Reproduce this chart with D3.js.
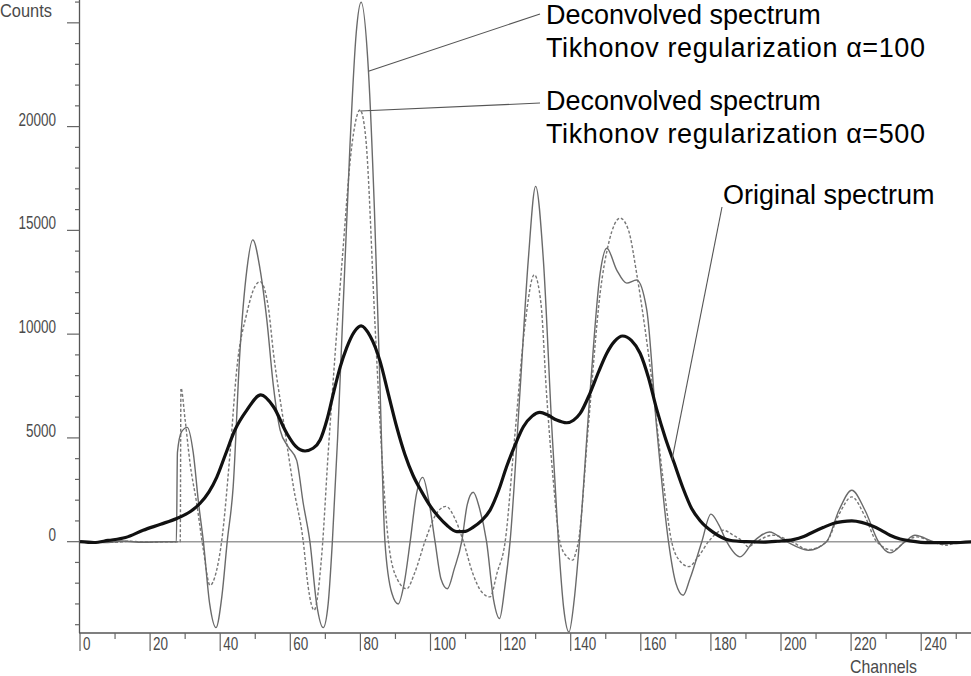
<!DOCTYPE html>
<html>
<head>
<meta charset="utf-8">
<script src="https://cdn.jsdelivr.net/npm/d3@7"></script>
<style>
  body { margin: 0; background: #fff; }
  svg { display: block; }
  .axis-text { font-family: "Liberation Sans", Arial, sans-serif; font-size: 18px; fill: #4a4a4a; }
  .note { font-family: "Liberation Sans", Arial, sans-serif; font-size: 27px; fill: #000; }
</style>
</head>
<body>
<script>
// values: [channel, counts]
var original = [[0,0],[4,-40],[8,60],[13,200],[18,550],[23,840],[27.6,1120],[31.4,1440],[34.2,1840],[36.8,2400],
  [39,3100],[41.5,4200],[44.2,5380],[47.6,6340],[51.6,7070],[55.2,6500],[59,5220],[61.5,4600],[64.2,4370],[66.5,4500],
  [68.5,4900],[70.5,5900],[72.3,7150],[74.2,8400],[76.1,9350],[78.2,10100],[80.2,10400],[82.8,9900],[85.6,8700],[88,7100],
  [90.4,5500],[92.7,4200],[95,3200],[97.5,2400],[100,1700],[102.3,1200],[104.6,800],[107.5,480],[110,500],[112.2,700],
  [114.5,1000],[117,1520],[119.5,2500],[121.7,3610],[124,4600],[126.5,5540],[129,6050],[131.2,6230],[133.5,6100],[136,5860],
  [138.9,5730],[140.8,5850],[142.7,6180],[145.5,7150],[148,8200],[150.3,9080],[152.5,9650],[154.8,9910],[157.3,9700],[159.8,9080],
  [162.2,7900],[164.5,6400],[167,5000],[169.5,3800],[172,2600],[174.5,1600],[177,1000],[180.7,450],[185.4,70],[190,0],
  [195,-20],[199,20],[203.5,100],[206.5,250],[209.2,470],[212,680],[214.9,880],[217.5,970],[220.2,1000],[223,930],
  [225.4,800],[228.5,560],[231.1,310],[234,130],[236.8,40],[242.5,-50],[249,-50],[255,0]];

var tikhonov100 = [[0,0],[8,-40],[12,30],[18,-30],[24,0],[27.5,0],[27.8,4300],[29,5300],[30.6,5510],[32.3,4300],
  [33.8,1900],[35.2,0],[37,-3000],[38.8,-4140],[40.5,-2600],[42,0],[43.7,2640],[45.6,9080],[47.6,13100],[49.3,14540],
  [51.4,13100],[53.3,10690],[55.2,7470],[57.1,5380],[59.4,4570],[61.8,3930],[63.7,1840],[65.6,0],[67.5,-2980],[69.4,-4140],
  [70.8,-3000],[72,0],[73.5,5000],[75,11000],[77,19000],[78.8,24500],[80.2,25990],[82.3,22670],[84,16000],[85.5,8000],
  [87,0],[89,-2500],[90.8,-3000],[92.5,-2000],[94.2,0],[96,2300],[97.8,3100],[99.5,2000],[101.3,0],[103,-1800],
  [104.8,-2270],[106.8,-1300],[108.9,0],[110.5,1800],[112.2,2380],[114,1600],[116,0],[118,-2800],[119.7,-3700],[121.2,-2200],
  [122.7,0],[125.5,7150],[127.9,13580],[130,17120],[132.2,13580],[134.6,5540],[136.5,0],[138,-3200],[139.5,-4350],[141,-2800],
  [142.5,0],[145.5,7150],[148.4,12940],[150.3,14140],[153.1,13100],[156,12460],[158.8,12610],[161.7,11170],[164.5,5540],[167.9,0],
  [170,-2000],[172.1,-2580],[174,-1800],[177.4,0],[180,1330],[182.3,800],[184.5,0],[188.3,-730],[192.1,0],[196.7,470],
  [201.6,0],[207.8,-410],[213,0],[216.5,1500],[220.2,2480],[224,1500],[227.8,0],[231.1,-540],[235.4,0],[238.2,310],
  [243.5,0],[246.3,-120],[250,0],[255,0]];

var tikhonov500 = [[0,0],[10,-30],[14,20],[20,-20],[26,0],[28.6,0],[28.8,7400],[30,5860],[31.4,3770],[33.3,1840],
  [35.2,-400],[37.1,-2100],[38.8,-1500],[40.4,0],[42.8,4250],[44.7,8270],[47.6,11010],[49.9,12290],[51.4,12530],[53.7,11330],
  [55.2,9080],[58,5860],[60.9,2640],[63.7,0],[65.1,-2180],[66.8,-3300],[69,-570],[70.8,4250],[72.8,9080],[75,14000],
  [77.5,19000],[79.9,20800],[81.5,19500],[84.2,10350],[86,4500],[88,0],[90.5,-1800],[93.2,-2270],[95.5,-1500],[98.4,0],
  [101.5,1300],[104.4,1700],[107,1100],[109.4,0],[112,-1500],[114.5,-2400],[117,-2660],[119,-1500],[121.3,0],[124,5000],
  [127,10500],[129.6,12860],[131.5,11500],[133.1,7150],[135,3000],[136.9,0],[138.8,-700],[140.6,-890],[141.5,-500],[142.2,0],
  [145,5500],[148.4,11970],[151,14500],[154.1,15590],[156.5,15000],[158.8,12940],[161,10500],[163.6,7150],[166,3500],[168.8,0],
  [171,-900],[173.7,-1200],[176.5,-700],[179.3,0],[183.5,550],[186.5,300],[189.2,0],[190.6,-250],[193,0],[197.7,310],
  [203,0],[207.8,-380],[213,0],[216.5,1300],[220.2,2160],[224,1200],[227.3,0],[232,-410],[235.4,0],[238.7,230],
  [243,0],[247.3,-170],[251,0],[255,0]];

var yLabelTicks = [0, 5000, 10000, 15000, 20000];
var xLabelTicks = [0, 20, 40, 60, 80, 100, 120, 140, 160, 180, 200, 220, 240];

var width = 971, height = 676;
var left = 80, plotBottom = 633;
var charW = 7.5; // the plotter font is narrow

var x = d3.scaleLinear().domain([0, 255]).range([left, left + 255 * 3.505]);
var y = d3.scaleLinear().domain([-4400, 26100]).range([plotBottom, 0]);

var svg = d3.select("body").append("svg")
    .attr("width", width)
    .attr("height", height);

svg.append("rect").attr("width", width).attr("height", height).attr("fill", "#fff");

// zero line
svg.append("line")
    .attr("x1", left).attr("x2", width)
    .attr("y1", y(0)).attr("y2", y(0))
    .attr("stroke", "#9a9a9a").attr("stroke-width", 1.6);

// y axis: minor every 1000, long every 5000
var yAxis = svg.append("g").attr("class", "y-axis");
yAxis.append("line")
    .attr("x1", left - 0.5).attr("x2", left - 0.5)
    .attr("y1", 0).attr("y2", plotBottom)
    .attr("stroke", "#555").attr("stroke-width", 1.3);
yAxis.selectAll(".tk")
    .data(d3.range(-4000, 26001, 1000))
  .enter().append("line")
    .attr("x1", function(d) { return d % 5000 === 0 ? left - 13 : left - 5; })
    .attr("x2", left - 0.5)
    .attr("y1", function(d) { return y(d); })
    .attr("y2", function(d) { return y(d); })
    .attr("stroke", "#666").attr("stroke-width", 1.2);
yAxis.selectAll(".lbl")
    .data(yLabelTicks)
  .enter().append("text")
    .attr("class", "axis-text")
    .attr("x", left - 24)
    .attr("y", function(d) { return y(d) - 1; })
    .attr("text-anchor", "end")
    .attr("textLength", function(d) { return String(d).length * charW; })
    .attr("lengthAdjust", "spacingAndGlyphs")
    .text(function(d) { return d; });
svg.append("text").attr("class", "axis-text")
    .attr("x", 0).attr("y", 17)
    .attr("textLength", 52).attr("lengthAdjust", "spacingAndGlyphs")
    .text("Counts");

// x axis
var xAxis = svg.append("g").attr("class", "x-axis");
xAxis.append("line")
    .attr("x1", left - 1).attr("x2", width)
    .attr("y1", plotBottom).attr("y2", plotBottom)
    .attr("stroke", "#555").attr("stroke-width", 1.5);
xAxis.selectAll(".tk")
    .data(d3.range(0, 251, 10))
  .enter().append("line")
    .attr("x1", function(d) { return x(d); })
    .attr("x2", function(d) { return x(d); })
    .attr("y1", plotBottom)
    .attr("y2", function(d) { return d % 20 === 0 ? plotBottom + 18 : plotBottom + 6; })
    .attr("stroke", "#666").attr("stroke-width", 1.2);
xAxis.selectAll(".lbl")
    .data(xLabelTicks)
  .enter().append("text")
    .attr("class", "axis-text")
    .attr("x", function(d) { return x(d) + 3; })
    .attr("y", plotBottom + 17)
    .attr("textLength", function(d) { return String(d).length * charW; })
    .attr("lengthAdjust", "spacingAndGlyphs")
    .text(function(d) { return d; });
svg.append("text").attr("class", "axis-text")
    .attr("x", 850).attr("y", 673).style("font-size", "19px")
    .attr("textLength", 67).attr("lengthAdjust", "spacingAndGlyphs")
    .text("Channels");

// curves
var line = d3.line()
    .x(function(d) { return x(d[0]); })
    .y(function(d) { return y(d[1]); })
    .curve(d3.curveMonotoneX);

svg.append("path").datum(tikhonov500)
    .attr("d", line).attr("fill", "none")
    .attr("stroke", "#777").attr("stroke-width", 1.4)
    .attr("stroke-dasharray", "3,2");
svg.append("path").datum(tikhonov100)
    .attr("d", line).attr("fill", "none")
    .attr("stroke", "#6a6a6a").attr("stroke-width", 1.4);
svg.append("path").datum(original)
    .attr("d", line).attr("fill", "none")
    .attr("stroke", "#111").attr("stroke-width", 3.2)
    .attr("stroke-linejoin", "round");

// annotations (anchor on curve in data units, text in page units)
var notes = [
  {ch: 82.3, v: 22670, tx: 546, ty: 24, ex: 540, ey: 14,
   lines: ["Deconvolved spectrum", "Tikhonov regularization \u03b1=100"]},
  {ch: 79.9, v: 20750, tx: 546, ty: 110, ex: 540, ey: 103,
   lines: ["Deconvolved spectrum", "Tikhonov regularization \u03b1=500"]},
  {ch: 168.9, v: 3940, tx: 723, ty: 204, ex: 722, ey: 207,
   lines: ["Original spectrum"]}
];

notes.forEach(function(n) {
  svg.append("line")
      .attr("x1", x(n.ch)).attr("y1", y(n.v))
      .attr("x2", n.ex).attr("y2", n.ey)
      .attr("stroke", "#555").attr("stroke-width", 1.1);
  n.lines.forEach(function(t, i) {
    var txt = svg.append("text").attr("class", "note")
        .attr("x", n.tx).attr("y", n.ty + i * 33)
        .text(t);
    if (i === 1) txt.attr("textLength", 379).attr("lengthAdjust", "spacing");
  });
});
</script>
</body>
</html>
